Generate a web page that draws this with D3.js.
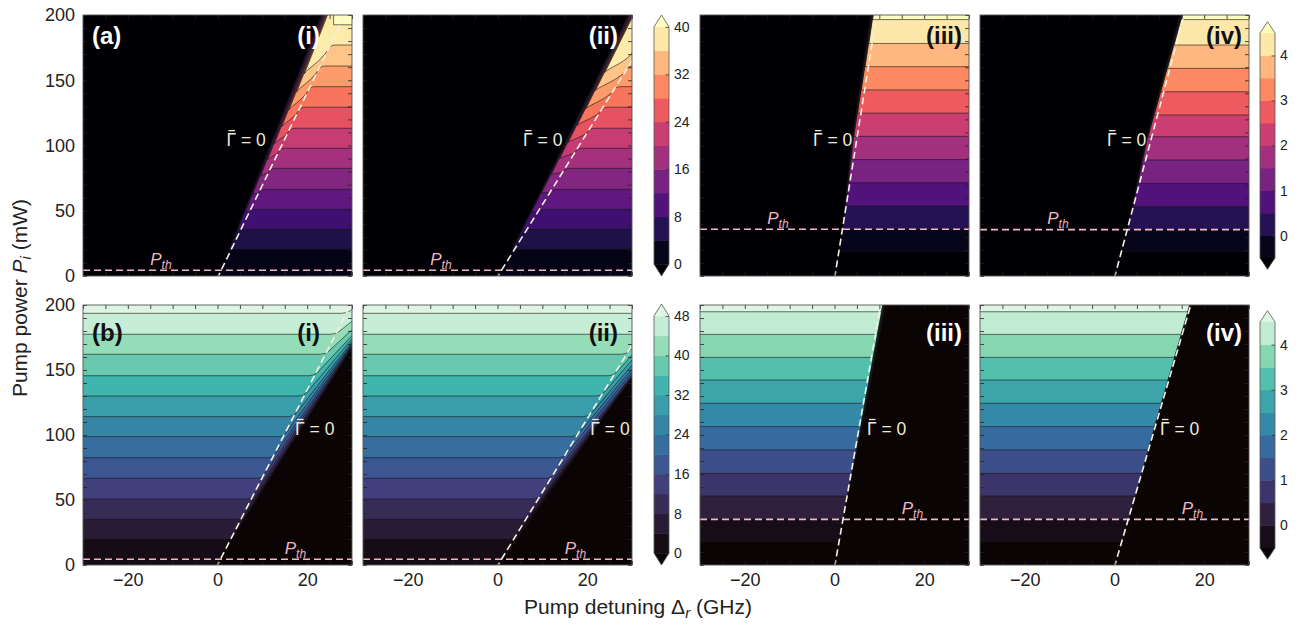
<!DOCTYPE html>
<html>
<head>
<meta charset="utf-8">
<script src="https://cdn.jsdelivr.net/npm/d3@7"></script>
<style>
  body { margin: 0; background: #fff; }
  svg text { font-family: "Liberation Sans", Arial, Helvetica, sans-serif; }
</style>
</head>
<body>
<svg id="chart" width="1298" height="624"></svg>
<script>
// ---- values ----
const detuningDomain = [-30, 30];
const powerDomain = [0, 200];
const detuningTicks = [-20, 0, 20];
const powerTicks = [0, 50, 100, 150, 200];
const detuningMinor = [-30, -25, -20, -15, -10, -5, 0, 5, 10, 15, 20, 25, 30];
const powerMinor = [0, 10, 20, 30, 40, 50, 60, 70, 80, 90, 100, 110, 120, 130, 140, 150, 160, 170, 180, 190, 200];

// (a)(i): coloured region right of the edge, [detuning, power]
const edgeA1 = [[0.3, 0], [23.2, 200]];
const gammaA1 = [[0.2, 0], [28.4, 200]];
const levelsA1 = [20.5, 35.8, 51.1, 66.4, 82.5, 97.9, 113.2, 129.3, 145.1, 160.9, 177.0];
const dropsA1 = [0, 0, 2, 4, 6, 9, 12, 15, 18, 20, 22];
const boxA1 = [25.9, 192.5];
const pthA1 = 4.4;

// (a)(ii)
const edgeA2 = [[0.3, 0], [29.2, 200]];
const gammaA2 = [[0.1, 0], [30, 165]];
const levelsA2 = [20.5, 35.8, 51.1, 66.4, 82.5, 97.9, 113.2, 129.3, 145.1, 160.9, 177.0];
const dropsA2 = [0, 0, 2, 3, 5, 8, 11, 14, 17, 19, 21];
const pthA2 = 4.4;

// (a)(iii)
const edgeA3 = [[0.1, 0], [1.8, 35.8], [3.9, 104], [8.1, 200]];
const gammaA3 = [[0.1, 0], [9.4, 200]];
const levelsA3 = [18.6, 35.8, 53.6, 71.4, 89.2, 107.0, 124.8, 142.6, 160.4, 178.2, 196.5];
const pthA3 = 35.8;

// (a)(iv)
const edgeA4 = [[0.1, 0], [2.9, 35.5], [7.0, 104], [14.6, 200]];
const gammaA4 = [[0.1, 0], [15.5, 200]];
const levelsA4 = [18.6, 35.5, 53.1, 71.0, 88.9, 106.7, 123.4, 141.2, 159.1, 177.0, 196.5];
const pthA4 = 35.5;

// (b)(i): coloured region left of the edge
const edgeB1 = [[-0.3, 0], [30, 167]];
const gammaB1 = [[0, 0], [29.7, 200]];
const levelsB1 = [19.8, 35.2, 50.8, 66.7, 82.5, 98.7, 114.1, 130.0, 145.6, 162.1, 177.5, 193.6];
const exitsB1 = [167.6, 168.1, 168.7, 169.3, 170.0, 170.8, 172.0, 174.0, 176.5, 181.0, 187.5, 196.5];
const pthB1 = 4.4;

// (b)(ii)
const edgeB2 = [[0.3, 0], [30, 144]];
const gammaB2 = [[0.1, 0], [30, 169]];
const levelsB2 = [19.8, 35.2, 50.8, 66.7, 82.5, 98.7, 114.1, 130.0, 145.6, 162.1, 177.5, 193.6];
const exitsB2 = [144.3, 144.8, 145.4, 146.2, 148.5, 151.0, 153.8, 157.7, 161.5, 166.7, 177.5, 193.6];
const pthB2 = 4.4;

// (b)(iii)
const edgeB3 = [[0.1, 0], [1.9, 35.1], [6.1, 106.4], [11.3, 200]];
const gammaB3 = [[0.1, 0], [10.3, 200]];
const levelsB3 = [17.9, 35.1, 53.1, 70.5, 88.5, 106.4, 124.4, 142.3, 159.7, 177.4, 194.8];
const pthB3 = 35.1;

// (b)(iv)
const edgeB4 = [[0.1, 0], [3.3, 35.1], [9.2, 106.4], [17.3, 200]];
const gammaB4 = [[0.1, 0], [17.0, 200]];
const levelsB4 = [17.9, 35.1, 53.1, 70.5, 88.5, 106.4, 124.4, 142.3, 159.7, 177.4, 194.8];
const pthB4 = 35.1;

// colour bars
const cbLevelsA = [0, 4, 8, 12, 16, 20, 24, 28, 32, 36, 40];
const cbTicksA = [0, 8, 16, 24, 32, 40];
const cbLevelsB = [0, 4, 8, 12, 16, 20, 24, 28, 32, 36, 40, 44, 48];
const cbTicksB = [0, 8, 16, 24, 32, 40, 48];
const cbLevelsRatio = [-0.5, 0, 0.5, 1, 1.5, 2, 2.5, 3, 3.5, 4, 4.5];
const cbTicksRatio = [0, 1, 2, 3, 4];

// ---- colour maps ----
const magma = d3.interpolateMagma;
const mako = d3.scaleLinear()
  .domain([0, 1 / 7, 2 / 7, 3 / 7, 4 / 7, 5 / 7, 6 / 7, 1])
  .range(['#0b0405', '#2e1e3b', '#413d7b', '#37659e', '#348fa7', '#40b7ad', '#8ad9b1', '#def5e5'])
  .interpolate(d3.interpolateRgb);
const mids = (cmap, n) => d3.range(n).map(k => cmap((k + 0.5) / n));
const magma12 = mids(magma, 12), magma10 = mids(magma, 10);
const mako12 = mids(mako, 12), mako10 = mids(mako, 10);

// ---- layout ----
const colX = [[83, 352], [363, 632], [700, 969], [980, 1249]];
const rowY = [[15, 276], [305, 565]];
const tagRight = [320, 618, 962, 1242];
const tagBase = [44, 341];

const svg = d3.select('#chart');
const defs = svg.append('defs');

const panels = [
  { id: 'a1', col: 0, row: 0, side: 1, edge: edgeA1, gamma: gammaA1, levels: levelsA1, drops: dropsA1, box: boxA1, pth: pthA1,
    base: magma12[0], fills: magma12.slice(1), over: magma(1), under: magma(0), spread: 0.6,
    tag: '(i)', tagColor: '#fff', letter: '(a)', letterColor: '#fff', gLabel: [2.0, 99.5], pthLabel: -15 },
  { id: 'a2', col: 1, row: 0, side: 1, edge: edgeA2, gamma: gammaA2, levels: levelsA2, drops: dropsA2, pth: pthA2,
    base: magma12[0], fills: magma12.slice(1), over: magma(1), under: magma(0), spread: 0.5,
    tag: '(ii)', tagColor: '#fff', gLabel: [5.7, 99.5], pthLabel: -15 },
  { id: 'a3', col: 2, row: 0, side: 1, edge: edgeA3, gamma: gammaA3, levels: levelsA3, pth: pthA3,
    base: magma(0), fills: [...magma10, magma(1)], over: magma(1), under: magma(0), spread: 0.25,
    tag: '(iii)', tagColor: '#111', gLabel: [-4.8, 99.5], pthLabel: -15 },
  { id: 'a4', col: 3, row: 0, side: 1, edge: edgeA4, gamma: gammaA4, levels: levelsA4, pth: pthA4,
    base: magma(0), fills: [...magma10, magma(1)], over: magma(1), under: magma(0), spread: 0.25,
    tag: '(iv)', tagColor: '#111', gLabel: [-1.7, 99.5], pthLabel: -15 },
  { id: 'b1', col: 0, row: 1, side: -1, edge: edgeB1, gamma: gammaB1, levels: levelsB1, exits: exitsB1, pth: pthB1,
    base: mako12[0], fills: [...mako12.slice(1), mako(1)], over: mako(1), under: mako(0), spread: 0.3,
    tag: '(i)', tagColor: '#111', letter: '(b)', letterColor: '#111', gLabel: [17.3, 100], pthLabel: 15 },
  { id: 'b2', col: 1, row: 1, side: -1, edge: edgeB2, gamma: gammaB2, levels: levelsB2, exits: exitsB2, pth: pthB2,
    base: mako12[0], fills: [...mako12.slice(1), mako(1)], over: mako(1), under: mako(0), spread: 0.3,
    tag: '(ii)', tagColor: '#111', gLabel: [20.7, 100], pthLabel: 15 },
  { id: 'b3', col: 2, row: 1, side: -1, edge: edgeB3, gamma: gammaB3, levels: levelsB3, pth: pthB3,
    base: mako(0), fills: [...mako10, mako(1)], over: mako(1), under: mako(0), spread: 0.25,
    tag: '(iii)', tagColor: '#fff', gLabel: [7.25, 100], pthLabel: 15 },
  { id: 'b4', col: 3, row: 1, side: -1, edge: edgeB4, gamma: gammaB4, levels: levelsB4, pth: pthB4,
    base: mako(0), fills: [...mako10, mako(1)], over: mako(1), under: mako(0), spread: 0.25,
    tag: '(iv)', tagColor: '#fff', gLabel: [10.15, 100], pthLabel: 15 }
];

function drawPanel(p) {
  const [x0, x1] = colX[p.col];
  const [y0, y1] = rowY[p.row];
  const x = d3.scaleLinear().domain(detuningDomain).range([x0, x1]);
  const y = d3.scaleLinear().domain(powerDomain).range([y1, y0]);
  const edgeAt = d3.scaleLinear().domain(p.edge.map(d => d[1])).range(p.edge.map(d => d[0]));
  const gammaAt = d3.scaleLinear().domain(p.gamma.map(d => d[1])).range(p.gamma.map(d => d[0]));
  // edge position of level k, pushed slightly into the coloured side
  const ex = (P, k) => x(edgeAt(P)) + p.side * k * p.spread;
  const far = p.side > 0 ? x(36) : x(-36);
  const top = y(230), bot = y(-10);

  defs.append('clipPath').attr('id', 'clip-' + p.id)
    .append('rect').attr('x', x0).attr('y', y0).attr('width', x1 - x0).attr('height', y1 - y0);

  const g = svg.append('g');
  const body = g.append('g').attr('clip-path', `url(#clip-${p.id})`);
  body.append('rect').attr('x', x0).attr('y', y0).attr('width', x1 - x0).attr('height', y1 - y0).attr('fill', p.under);

  const shapes = [];

  // base coloured region
  const base = d3.path();
  base.moveTo(x(edgeAt(-10)), bot);
  p.edge.forEach(d => base.lineTo(x(d[0]), y(d[1])));
  base.lineTo(x(edgeAt(230)), top);
  base.lineTo(far, top);
  base.lineTo(far, bot);
  base.closePath();
  shapes.push({ d: base.toString(), fill: p.base, line: false });

  p.levels.forEach((PL, k) => {
    const path = d3.path();
    const yL = y(PL);
    const r = 5;
    const drop = p.drops ? p.drops[k] : 0;
    path.moveTo(far, yL);
    if (p.exits) {
      const exitP = p.exits[k];
      const gb = gammaAt(PL);
      if (exitP > PL + 0.05 && gb < 30) {
        const xb = x(gb);
        let dx = x(30) - xb, dy = y(exitP) - yL;
        const len = Math.hypot(dx, dy); dx /= len; dy /= len;
        path.lineTo(xb - r, yL);
        path.quadraticCurveTo(xb, yL, xb + r * dx, yL + r * dy);
        path.lineTo(x(30), y(exitP));
        path.lineTo(x(36), y(exitP));
      } else {
        path.lineTo(x(36), yL);
      }
      path.lineTo(x(36), top);
      path.lineTo(x(-36), top);
      path.closePath();
    } else {
      let startP = PL;
      if (drop > 0) {
        const xb = Math.min(x(gammaAt(PL)), x(31));
        const Pt = PL - drop;
        let dx = x(gammaAt(PL - 10)) - x(gammaAt(PL)), dy = y(PL - 10) - yL;
        const len = Math.hypot(dx, dy); dx /= len; dy /= len;
        path.lineTo(xb + r, yL);
        path.quadraticCurveTo(xb, yL, xb + r * dx, yL + r * dy);
        const Pm = PL - drop * 0.6;
        path.bezierCurveTo(x(gammaAt(Pm)) - 1.5, y(Pm), ex(Pt + drop * 0.15, k), y(Pt + drop * 0.15), ex(Pt, k), y(Pt));
        startP = Pt;
      } else {
        path.lineTo(ex(PL, k), yL);
      }
      p.edge.filter(d => d[1] > startP).forEach(d => path.lineTo(ex(d[1], k), y(d[1])));
      path.lineTo(ex(230, k), top);
      path.lineTo(far, top);
      path.closePath();
    }
    shapes.push({ d: path.toString(), fill: p.fills[k], line: true });
  });

  if (p.box) {
    const bx = d3.path();
    bx.moveTo(x(p.box[0]), top);
    bx.lineTo(x(p.box[0]), y(p.box[1]));
    bx.lineTo(x(36), y(p.box[1]));
    bx.lineTo(x(36), top);
    bx.closePath();
    shapes.push({ d: bx.toString(), fill: p.over, line: true });
  }

  body.selectAll('path.band').data(shapes).join('path')
    .attr('class', 'band').attr('d', d => d.d).attr('fill', d => d.fill);
  body.selectAll('path.cline').data(shapes.filter(d => d.line)).join('path')
    .attr('class', 'cline').attr('d', d => d.d).attr('fill', 'none')
    .attr('stroke', '#151515').attr('stroke-width', 0.75).attr('stroke-opacity', 0.8);

  // threshold power and Gamma = 0 lines
  body.append('line')
    .attr('x1', x0).attr('x2', x1).attr('y1', y(p.pth)).attr('y2', y(p.pth))
    .attr('stroke', '#f2b8c4').attr('stroke-width', 1.6).attr('stroke-dasharray', '7,4');
  body.append('line')
    .attr('x1', x(gammaAt(-10))).attr('y1', bot).attr('x2', x(gammaAt(230))).attr('y2', top)
    .attr('stroke', '#f4f1e0').attr('stroke-width', 1.6).attr('stroke-dasharray', '7,4');

  // inward ticks on every side
  const ticks = g.append('g');
  ticks.append('g').attr('transform', `translate(0,${y1})`)
    .call(d3.axisBottom(x).tickValues(detuningMinor).tickSize(-4).tickFormat(''));
  ticks.append('g').attr('transform', `translate(0,${y0})`)
    .call(d3.axisTop(x).tickValues(detuningMinor).tickSize(-4).tickFormat(''));
  ticks.append('g').attr('transform', `translate(${x0},0)`)
    .call(d3.axisLeft(y).tickValues(powerMinor).tickSize(-4).tickFormat(''));
  ticks.append('g').attr('transform', `translate(${x1},0)`)
    .call(d3.axisRight(y).tickValues(powerMinor).tickSize(-4).tickFormat(''));
  ticks.selectAll('.domain').remove();
  ticks.selectAll('line').attr('stroke', '#222').attr('stroke-width', 0.8);

  g.append('rect').attr('x', x0).attr('y', y0).attr('width', x1 - x0).attr('height', y1 - y0)
    .attr('fill', 'none').attr('stroke', '#555').attr('stroke-width', 0.9);

  // tick labels
  if (p.col === 0) {
    const ax = g.append('g').attr('transform', `translate(${x0},0)`)
      .call(d3.axisLeft(y).tickValues(powerTicks).tickSize(0).tickPadding(8));
    ax.select('.domain').remove();
    ax.selectAll('text').attr('font-size', 18).attr('fill', '#222').attr('font-family', null);
  }
  if (p.row === 1) {
    const ax = g.append('g').attr('transform', `translate(0,${y1})`)
      .call(d3.axisBottom(x).tickValues(detuningTicks).tickSize(0).tickPadding(8));
    ax.select('.domain').remove();
    ax.selectAll('text').attr('font-size', 18).attr('fill', '#222').attr('font-family', null);
  }

  // "Gamma-bar = 0" label with a bar drawn over the Gamma
  const gx = x(p.gLabel[0]), gy = y(p.gLabel[1]);
  g.append('text').attr('x', gx).attr('y', gy)
    .attr('font-size', 17.5).attr('fill', '#eeebdc').attr('xml:space', 'preserve').text('\u0393 = 0');
  g.append('line').attr('x1', gx + 2).attr('x2', gx + 8.5).attr('y1', gy - 15.5).attr('y2', gy - 15.5)
    .attr('stroke', '#eeebdc').attr('stroke-width', 1.3);

  const pt = g.append('text').attr('x', x(p.pthLabel)).attr('y', y(p.pth) - 5.5)
    .attr('font-size', 17).attr('font-style', 'italic').attr('fill', '#f0b4c2');
  pt.append('tspan').text('P');
  pt.append('tspan').attr('font-size', 12).attr('dy', 4).text('th');

  g.append('text').attr('x', tagRight[p.col]).attr('y', tagBase[p.row]).attr('text-anchor', 'end')
    .attr('font-size', 24).attr('font-weight', 'bold').attr('fill', p.tagColor).text(p.tag);
  if (p.letter) {
    g.append('text').attr('x', 92).attr('y', tagBase[p.row])
      .attr('font-size', 24).attr('font-weight', 'bold').attr('fill', p.letterColor).text(p.letter);
  }
}

panels.forEach(drawPanel);

// ---- colour bars ----
const colorbars = [
  { levels: cbLevelsA, ticks: cbTicksA, colors: magma10, over: magma(1), under: magma(0), x0: 654, tipTop: 15, tipBottom: 276 },
  { levels: cbLevelsRatio, ticks: cbTicksRatio, colors: magma10, over: magma(1), under: magma(0), x0: 1260, tipTop: 21.7, tipBottom: 269.3 },
  { levels: cbLevelsB, ticks: cbTicksB, colors: mako12, over: mako(1), under: mako(0), x0: 654, tipTop: 304, tipBottom: 565 },
  { levels: cbLevelsRatio, ticks: cbTicksRatio, colors: mako10, over: mako(1), under: mako(0), x0: 1260, tipTop: 310.7, tipBottom: 559.3 }
];

function drawColorbar(cb) {
  const w = 15;
  const inner = (cb.tipBottom - cb.tipTop) / 1.1;
  const tri = inner * 0.05;
  const rTop = cb.tipTop + tri, rBot = cb.tipBottom - tri;
  const s = d3.scaleLinear().domain([cb.levels[0], cb.levels[cb.levels.length - 1]]).range([rBot, rTop]);
  const g = svg.append('g');
  g.selectAll('rect').data(d3.pairs(cb.levels)).join('rect')
    .attr('x', cb.x0).attr('width', w)
    .attr('y', d => s(d[1])).attr('height', d => s(d[0]) - s(d[1]) + 0.5)
    .attr('fill', (d, i) => cb.colors[i]);
  const cx = cb.x0 + w / 2;
  g.append('path').attr('d', `M${cb.x0},${rTop}L${cx},${cb.tipTop}L${cb.x0 + w},${rTop}Z`).attr('fill', cb.over);
  g.append('path').attr('d', `M${cb.x0},${rBot}L${cx},${cb.tipBottom}L${cb.x0 + w},${rBot}Z`).attr('fill', cb.under);
  g.append('path')
    .attr('d', `M${cb.x0},${rTop}L${cx},${cb.tipTop}L${cb.x0 + w},${rTop}L${cb.x0 + w},${rBot}L${cx},${cb.tipBottom}L${cb.x0},${rBot}Z`)
    .attr('fill', 'none').attr('stroke', '#555').attr('stroke-width', 0.8);
  const ax = g.append('g').attr('transform', `translate(${cb.x0 + w},0)`)
    .call(d3.axisRight(s).tickValues(cb.ticks).tickSize(-3.5).tickPadding(5).tickFormat(d3.format('~g')));
  ax.select('.domain').remove();
  ax.selectAll('line').attr('stroke', '#333').attr('stroke-width', 0.8);
  ax.selectAll('text').attr('font-size', 14).attr('fill', '#222').attr('font-family', null);
}

colorbars.forEach(drawColorbar);

// ---- axis titles ----
const xt = svg.append('text').attr('x', 638).attr('y', 614).attr('text-anchor', 'middle')
  .attr('font-size', 21).attr('fill', '#222');
xt.append('tspan').text('Pump detuning \u0394');
xt.append('tspan').attr('font-size', 15).attr('font-style', 'italic').attr('dy', 4).text('r');
xt.append('tspan').attr('dy', -4).text(' (GHz)');

const yt = svg.append('text').attr('transform', 'translate(27,298) rotate(-90)').attr('text-anchor', 'middle')
  .attr('font-size', 21).attr('fill', '#222');
yt.append('tspan').text('Pump power ');
yt.append('tspan').attr('font-style', 'italic').text('P');
yt.append('tspan').attr('font-size', 15).attr('font-style', 'italic').attr('dy', 4).text('i');
yt.append('tspan').attr('dy', -4).text(' (mW)');
</script>
</body>
</html>
